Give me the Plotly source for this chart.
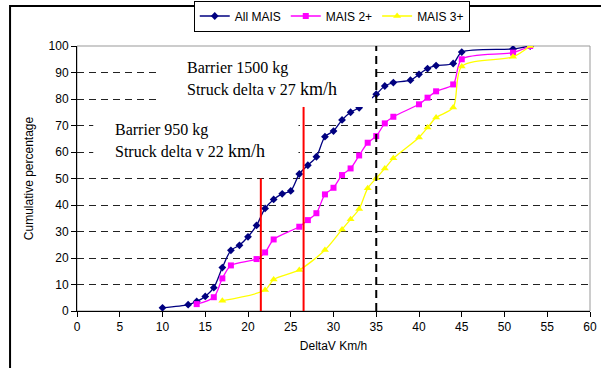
import plotly.graph_objects as go

# ---- data ----
all_x = [10, 13, 14, 15, 16, 17, 18, 19, 20, 21, 22, 23, 24, 25, 26, 27, 28, 29, 30, 31, 32, 33,
         35, 36, 37, 39, 40, 41, 42, 44, 45, 51, 53]
all_y = [1.2, 2.4, 3.6, 5.5, 8.8, 16.4, 22.9, 24.8, 28.0, 32.3, 38.7, 42.1, 44.2, 45.3, 51.7, 55.0,
         58.2, 65.8, 67.9, 72.1, 75.0, 76.7, 81.8, 84.9, 86.2, 87.1, 89.3, 91.5, 92.6, 93.4, 97.7,
         98.9, 100]
m2_x = [14, 16, 17, 18, 21, 22, 23, 26, 27, 28, 29, 30, 31, 32, 33, 34, 35, 36, 37, 40, 41, 42,
        44, 45, 51, 53]
m2_y = [2.6, 5.2, 12.3, 17.2, 19.6, 22.1, 27.0, 31.8, 34.3, 36.9, 44.0, 46.5, 51.3, 53.8, 58.7,
        63.5, 66.0, 70.8, 73.3, 78.0, 80.5, 82.9, 85.5, 95.0, 97.5, 100]
m3_x = [17, 22, 23, 26, 29, 31, 32, 33, 34, 35, 36, 37, 40, 41, 42, 44, 45, 51, 53]
m3_y = [3.9, 7.9, 11.9, 15.5, 23.0, 30.8, 34.6, 38.5, 46.3, 50.1, 53.8, 57.6, 65.5, 69.2, 73.0,
        76.8, 92.3, 95.9, 100]

x_ticks = list(range(0, 61, 5))
y_ticks = list(range(0, 101, 10))

barrier950_x, barrier950_top = 21.5, 50
barrier1500_x, barrier1500_top = 26.5, 77
ref_x = 35

FONT = "Liberation Sans, Arial, sans-serif"
SERIF = "Liberation Serif, Times New Roman, serif"

fig = go.Figure()
fig.add_trace(go.Scatter(x=all_x, y=all_y, name="All MAIS", mode="lines+markers",
                         line=dict(color="#000080", width=1.3, shape="spline", smoothing=0.8),
                         marker=dict(symbol="diamond", size=6, color="#000080")))
fig.add_trace(go.Scatter(x=m2_x, y=m2_y, name="MAIS 2+", mode="lines+markers",
                         line=dict(color="#FF00FF", width=1.3, shape="spline", smoothing=0.8),
                         marker=dict(symbol="square", size=6, color="#FF00FF")))
fig.add_trace(go.Scatter(x=m3_x, y=m3_y, name="MAIS 3+", mode="lines+markers",
                         line=dict(color="#FFFF00", width=1.3, shape="spline", smoothing=0.8),
                         marker=dict(symbol="triangle-up", size=7, color="#FFFF00")))

shapes = [
    # plot area border (grey top/right)
    dict(type="rect", xref="paper", yref="paper", x0=0, x1=1, y0=0, y1=1,
         line=dict(color="#999999", width=1), layer="below"),
    # chart area border
    dict(type="rect", xref="paper", yref="paper", x0=-0.1305, x1=1.6, y0=-0.6, y1=1.151,
         line=dict(color="#000000", width=2), layer="below"),
    # white text boxes
    dict(type="rect", xref="x", yref="y", x0=9.75, x1=34.5, y0=77, y1=98,
         fillcolor="white", line=dict(width=0), layer="above"),
    dict(type="rect", xref="x", yref="y", x0=1.9, x1=25.9, y0=55, y1=75,
         fillcolor="white", line=dict(width=0), layer="above"),
    # reference lines
    dict(type="line", xref="x", yref="y", x0=barrier950_x, x1=barrier950_x, y0=0, y1=barrier950_top,
         line=dict(color="#FF0000", width=2), layer="above"),
    dict(type="line", xref="x", yref="y", x0=barrier1500_x, x1=barrier1500_x, y0=0, y1=barrier1500_top,
         line=dict(color="#FF0000", width=2), layer="above"),
    dict(type="line", xref="x", yref="y", x0=ref_x, x1=ref_x, y0=0, y1=100,
         line=dict(color="#000000", width=2, dash="8px,5px"), layer="above"),
]

annotations = [
    dict(x=12.65, y=91.6, text="Barrier 1500 kg"),
    dict(x=12.65, y=83.7, text="Struck delta v 27 <span style='font-size:18px'>km/h</span>"),
    dict(x=4.2, y=68.2, text="Barrier 950 kg"),
    dict(x=4.2, y=60.3, text="Struck delta v 22 <span style='font-size:18px'>km/h</span>"),
]
for a in annotations:
    a.update(xref="x", yref="y", xanchor="left", yanchor="middle", showarrow=False,
             font=dict(family=SERIF, size=16, color="#000000"))

fig.update_layout(
    width=601, height=368,
    margin=dict(l=77, r=11, t=46, b=57, autoexpand=False),
    paper_bgcolor="white", plot_bgcolor="white",
    font=dict(family=FONT, size=12, color="#000000"),
    showlegend=True,
    legend=dict(orientation="h", xref="container", yref="container",
                x=0.552, xanchor="center", y=1 - 16 / 368, yanchor="middle",
                bordercolor="#000000", borderwidth=1, bgcolor="white",
                font=dict(family=FONT, size=12, color="#000000"),
                itemwidth=30, tracegroupgap=0),
    shapes=shapes,
    annotations=annotations,
    xaxis=dict(range=[0, 60], tickmode="array", tickvals=x_ticks, ticktext=[str(v) for v in x_ticks],
               showgrid=False, zeroline=False, showline=True, linecolor="#000000", linewidth=1,
               ticks="outside", ticklen=5, tickcolor="#000000", automargin=False,
               title=dict(text="DeltaV Km/h", standoff=8, font=dict(size=12))),
    yaxis=dict(range=[0, 100], tickmode="array", tickvals=y_ticks, ticktext=[str(v) for v in y_ticks],
               showgrid=True, gridcolor="#222222", gridwidth=1, griddash="7px,5px",
               zeroline=False, showline=True, linecolor="#000000", linewidth=1,
               ticks="outside", ticklen=5, tickcolor="#000000", automargin=False,
               title=dict(text="Cumulative percentage", standoff=12, font=dict(size=12))),
    yaxis2=dict(range=[0, 100], overlaying="y", side="left", anchor="x",
                tickmode="array", tickvals=y_ticks, showticklabels=False,
                ticks="inside", ticklen=5, tickcolor="#000000", automargin=False,
                showgrid=False, zeroline=False, showline=False),
)

fig.write_html("out.html", config={"displayModeBar": False},
               post_script="document.body.style.margin='0px';document.body.style.padding='0px';")
